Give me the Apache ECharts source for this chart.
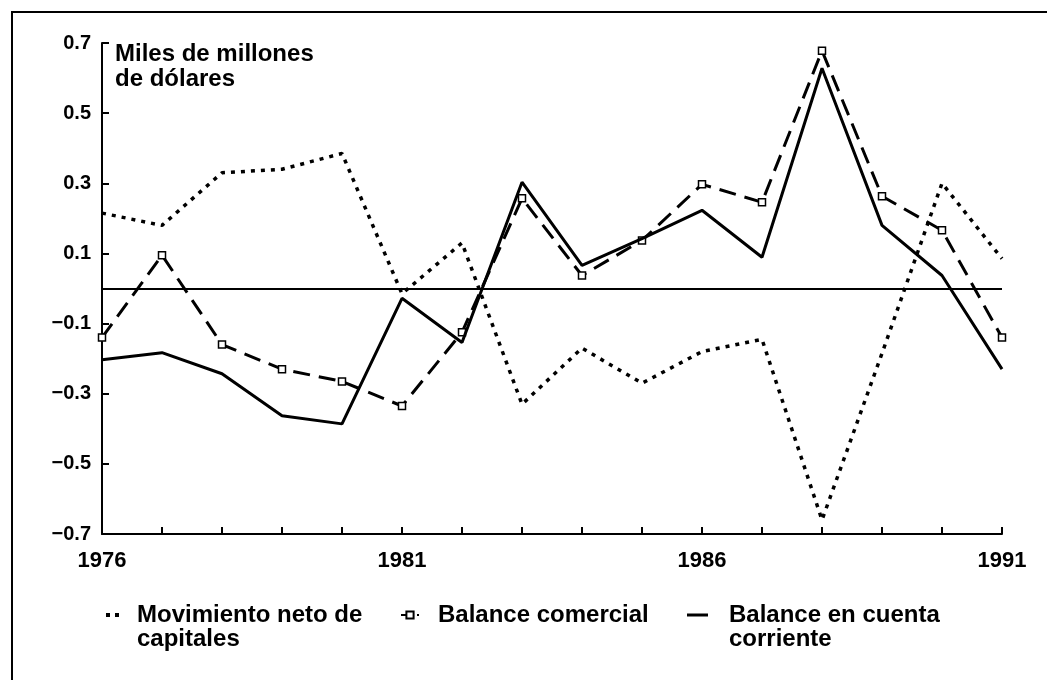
<!DOCTYPE html>
<html>
<head>
<meta charset="utf-8">
<script src="https://cdn.jsdelivr.net/npm/echarts@6/dist/echarts.min.js"></script>
<style>
html,body{margin:0;padding:0;background:#fff}
#c{width:1047px;height:680px}
</style>
</head>
<body>
<div id="c"></div>
<script>
// ---- data ----
const years = ['1976','1977','1978','1979','1980','1981','1982','1983','1984','1985','1986','1987','1988','1989','1990','1991'];
const capitales = [0.215, 0.18, 0.33, 0.34, 0.385, -0.015, 0.13, -0.33, -0.17, -0.27, -0.18, -0.145, -0.66, -0.185, 0.30, 0.085];
const comercial = [-0.14, 0.095, -0.16, -0.23, -0.265, -0.335, -0.125, 0.257, 0.037, 0.137, 0.297, 0.246, 0.678, 0.263, 0.166, -0.14];
const corriente = [-0.203, -0.183, -0.243, -0.363, -0.386, -0.028, -0.154, 0.303, 0.066, 0.142, 0.223, 0.089, 0.628, 0.18, 0.037, -0.23];
const yTicks = [-0.7, -0.5, -0.3, -0.1, 0.1, 0.3, 0.5, 0.7];
const seriesNames = ['Movimiento neto de\ncapitales', 'Balance comercial', 'Balance en cuenta\ncorriente'];
const axisTitle = 'Miles de millones\nde dólares';

const FONT = 'Liberation Sans';
const chart = echarts.init(document.getElementById('c'), null, {renderer: 'canvas'});

const legendText = (padLeft) => ({
  color: '#000', fontFamily: FONT, fontWeight: 'bold', fontSize: 24, lineHeight: 24, padding: [0, 0, 0, padLeft]
});
// two-line names: add an empty leading line so the icon sits beside the first text line
const twoLine = name => (name.indexOf('\n') >= 0 ? ' \n' + name : name);

chart.setOption({
  animation: false,
  backgroundColor: '#fff',
  grid: {left: 102, right: 45, top: 43, bottom: 146, containLabel: false},
  graphic: [{
    type: 'rect', silent: true, z: -1,
    shape: {x: 12, y: 12, width: 1100, height: 720},
    style: {fill: null, stroke: '#000', lineWidth: 2}
  }],
  legend: [
    {
      left: 106, top: 579, padding: 0, selectedMode: false,
      itemWidth: 13, itemHeight: 4,
      data: [{name: seriesNames[0], icon: 'path://M0,0h4v4h-4z M9,0h4v4h-4z'}],
      itemStyle: {color: '#000', borderWidth: 0},
      formatter: twoLine,
      textStyle: legendText(13)
    },
    {
      left: 400, top: 603, padding: 0, selectedMode: false,
      itemWidth: 18, itemHeight: 9,
      data: [seriesNames[1]],
      lineStyle: {type: [5, 3], width: 2},
      textStyle: legendText(14)
    },
    {
      left: 687, top: 579, padding: 0, selectedMode: false,
      itemWidth: 21, itemHeight: 3,
      data: [{name: seriesNames[2], icon: 'rect'}],
      itemStyle: {color: '#000', borderWidth: 0},
      formatter: twoLine,
      textStyle: legendText(16)
    }
  ],
  xAxis: {
    type: 'category',
    data: years,
    boundaryGap: false,
    axisLine: {onZero: false, lineStyle: {color: '#000', width: 2}},
    axisTick: {show: true, inside: true, length: 7, interval: 0, lineStyle: {color: '#000', width: 2}},
    axisLabel: {interval: 4, margin: 16, color: '#000', fontFamily: FONT, fontWeight: 'bold', fontSize: 22},
    splitLine: {show: false}
  },
  yAxis: {
    type: 'value',
    min: -0.7, max: 0.7,
    name: axisTitle,
    nameLocation: 'end',
    nameGap: 1,
    nameTextStyle: {align: 'left', verticalAlign: 'top', padding: [0, 0, 0, 13],
      color: '#000', fontFamily: FONT, fontWeight: 'bold', fontSize: 24, lineHeight: 25},
    axisLine: {show: true, lineStyle: {color: '#000', width: 2}},
    axisTick: {show: true, inside: true, length: 7, customValues: yTicks, lineStyle: {color: '#000', width: 2}},
    axisLabel: {customValues: yTicks, margin: 11, color: '#000', fontFamily: FONT, fontWeight: 'bold', fontSize: 20,
      formatter: v => v.toFixed(1).replace('-', '\u2212')},
    splitLine: {show: false}
  },
  series: [
    {
      name: seriesNames[0], type: 'line', data: capitales,
      symbol: 'none', z: 2,
      lineStyle: {color: '#000', width: 3.5, type: [4, 6]}
    },
    {
      name: seriesNames[1], type: 'line', data: comercial,
      symbol: 'rect', symbolSize: 7, showSymbol: true, z: 3,
      itemStyle: {color: '#fff', borderColor: '#000', borderWidth: 1.5},
      lineStyle: {color: '#000', width: 3, type: [17, 9]}
    },
    {
      name: seriesNames[2], type: 'line', data: corriente,
      symbol: 'none', z: 4,
      lineStyle: {color: '#000', width: 3, type: 'solid'},
      markLine: {
        silent: true, symbol: 'none', label: {show: false},
        lineStyle: {color: '#000', width: 2, type: 'solid'},
        data: [{yAxis: 0}]
      }
    }
  ]
});
</script>
</body>
</html>
